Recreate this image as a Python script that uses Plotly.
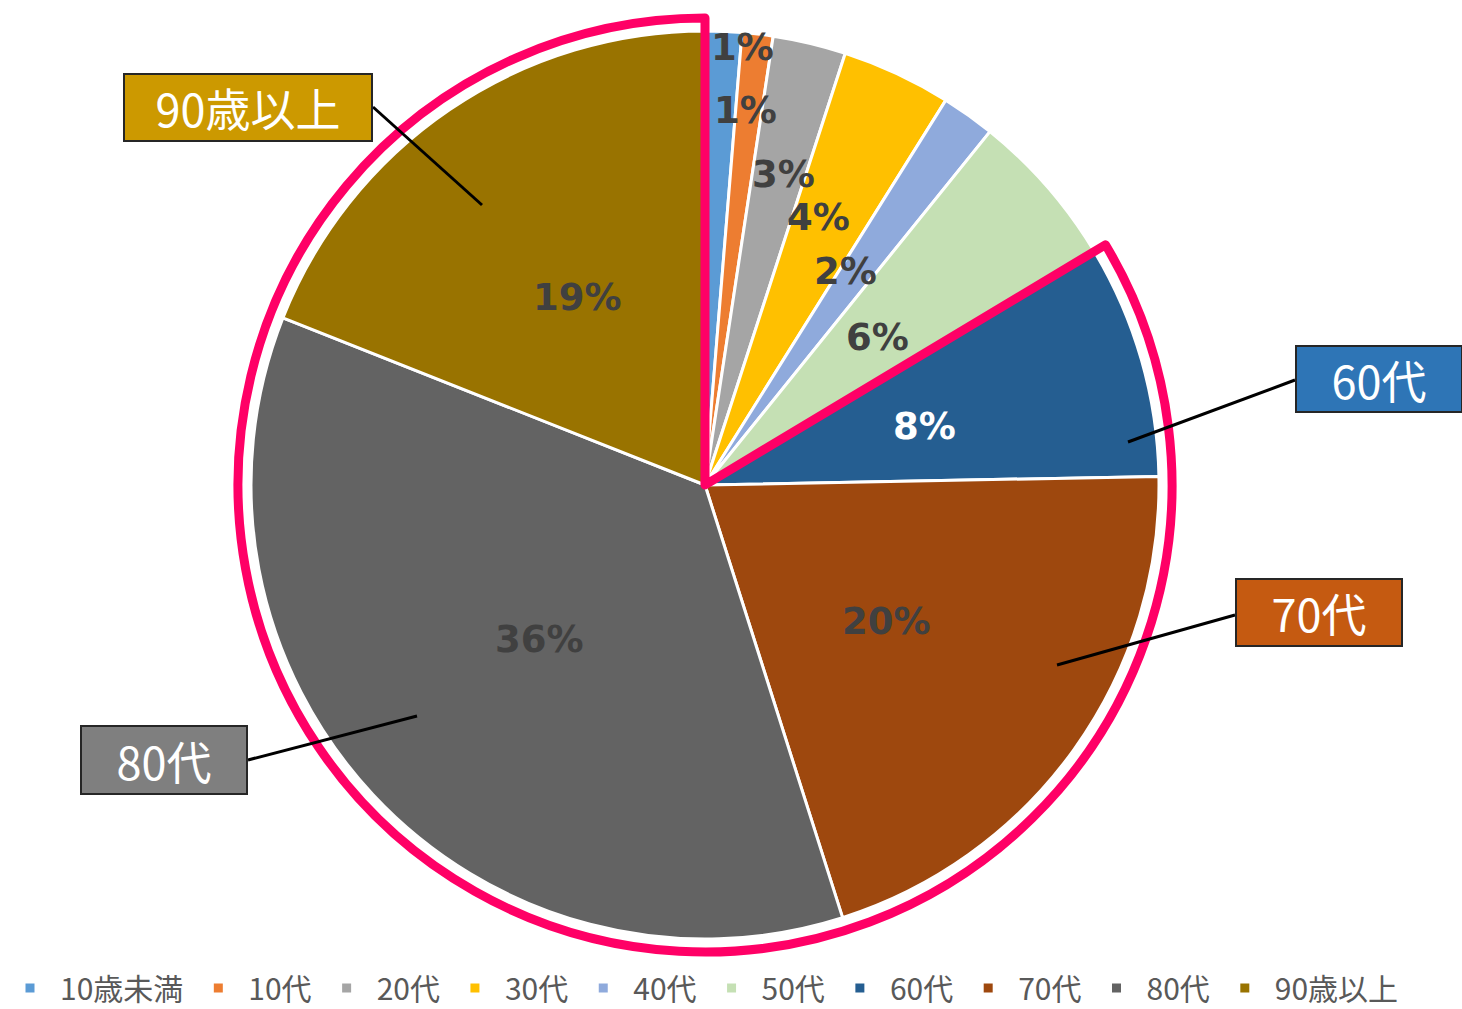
import math
import plotly.graph_objects as go

# ---- data ----
categories = ["10歳未満", "10代", "20代", "30代", "40代", "50代", "60代", "70代", "80代", "90歳以上"]
values = [1.3, 1.1, 2.6, 3.9, 1.9, 5.6, 8.3, 20.4, 35.9, 19.0]
colors = ["#5B9BD5", "#ED7D31", "#A5A5A5", "#FFC000", "#8FAADC",
          "#C5E0B4", "#255E91", "#9E480E", "#636363", "#997300"]
highlight_from = 6  # 60代 onward is outlined
callout_cats = ["90歳以上", "60代", "70代", "80代"]
callout_colors = ["#CC9900", "#2E75B6", "#C55A11", "#7F7F7F"]

# ---- layout / style ----
W, H = 1462, 1009
CX, CY, R = 705, 485, 454          # pie centre and radius in px
R_OUT = 467                         # pink outline radius
label_rfrac = [0.967, 0.83, 0.706, 0.64, 0.563, 0.5, 0.5, 0.5, 0.5, 0.5]
label_dang = [2.6, -0.5, 0.8, -2.0, -2.0, 0.5, 1.0, 1.2, 0.0, 0.0]
label_colors = ["#404040"] * 6 + ["#FFFFFF"] + ["#404040"] * 3

# callout boxes: centre (px), size (px); leader line start/end (px)
callout_box = [(248, 107.5, 250, 69), (1379, 379, 168, 68), (1319, 612.5, 168, 69), (164, 760, 168, 70)]
callout_line = [((373, 107), (482, 205)), ((1295, 380), (1128, 442)),
                ((1235, 615), (1057, 665)), ((248, 760), (417, 716))]

def px(x):
    return x / W

def py(y):
    return 1 - y / H

fig = go.Figure()
fig.add_trace(go.Pie(
    labels=categories, values=values, sort=False, direction="clockwise", rotation=0,
    marker=dict(colors=colors, line=dict(color="white", width=3)),
    textinfo="none", hoverinfo="label+percent",
    domain=dict(x=[px(CX - R), px(CX + R)], y=[py(CY + R), py(CY - R)]),
))

# pink outline around 60代 ... 90歳以上
grp_vals = [sum(values[:highlight_from]), sum(values[highlight_from:])]
fig.add_trace(go.Pie(
    labels=["_a", "_b"], values=grp_vals, sort=False, direction="clockwise", rotation=0,
    marker=dict(colors=["rgba(0,0,0,0)", "rgba(0,0,0,0)"],
                line=dict(color=["rgba(0,0,0,0)", "#FF0066"], width=[0, 9])),
    textinfo="none", hoverinfo="skip", showlegend=False,
    domain=dict(x=[px(CX - R_OUT), px(CX + R_OUT)], y=[py(CY + R_OUT), py(CY - R_OUT)]),
))

annotations = []
total = sum(values)
cum = 0
for i, v in enumerate(values):
    mid = (cum + v / 2) / total * 360 + label_dang[i]
    cum += v
    r = R * label_rfrac[i]
    x = CX + r * math.sin(math.radians(mid))
    y = CY - r * math.cos(math.radians(mid))
    annotations.append(dict(
        x=px(x), y=py(y), xref="paper", yref="paper", showarrow=False,
        text=f"{round(v / total * 100)}%",
        font=dict(family="DejaVu Sans", size=37, color=label_colors[i], weight="bold"),
        xanchor="center", yanchor="middle"))

shapes = []
for (x0, y0), (x1, y1) in callout_line:
    shapes.append(dict(type="line", xref="paper", yref="paper",
                       x0=px(x0), y0=py(y0), x1=px(x1), y1=py(y1),
                       line=dict(color="black", width=3), layer="above"))

for name, col, (bx, by, bw, bh) in zip(callout_cats, callout_colors, callout_box):
    annotations.append(dict(
        x=px(bx), y=py(by), xref="paper", yref="paper", showarrow=False,
        text=name, width=bw - 6, height=bh - 6, bgcolor=col,
        bordercolor="#262626", borderwidth=2, borderpad=1,
        font=dict(family="Noto Sans CJK JP", size=45, color="white"),
        xanchor="center", yanchor="middle", align="center", valign="middle"))

fig.update_layout(
    width=W, height=H, margin=dict(l=0, r=0, t=0, b=0, autoexpand=False),
    paper_bgcolor="white", plot_bgcolor="white",
    annotations=annotations, shapes=shapes,
    legend=dict(orientation="h", x=0, y=py(988), xanchor="left", yanchor="middle",
                font=dict(family="Noto Sans CJK JP", size=30, color="#595959"),
                itemwidth=50, itemclick=False, tracegroupgap=0),
)

fig.write_html("out.html", config={"displayModeBar": False},
               post_script="document.body.style.margin='0';document.body.style.overflow='hidden';")
